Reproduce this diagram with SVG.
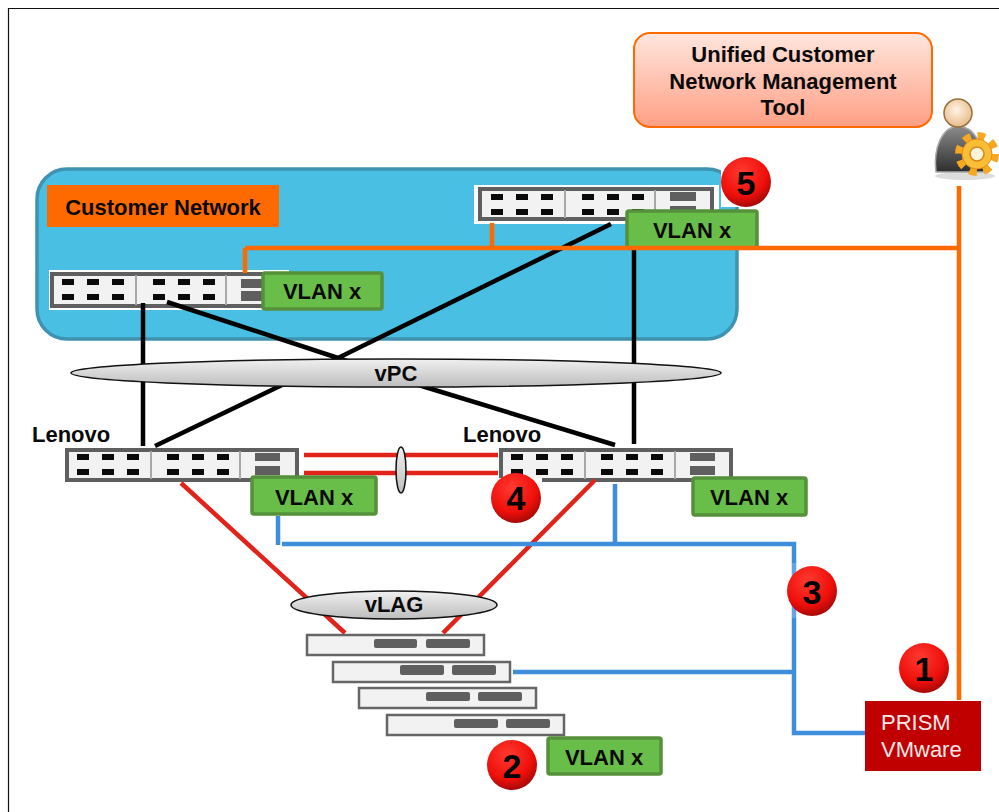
<svg xmlns="http://www.w3.org/2000/svg" width="999" height="812" viewBox="0 0 999 812">
<style>
text{font-family:"Liberation Sans",Arial,sans-serif;font-weight:700;fill:#0a0a0a}
.c{text-anchor:middle}
.sw{fill:#f2f2f2;stroke:#5f5f5f;stroke-width:4}
.dv{stroke:#a8a8a8;stroke-width:2}
.p{fill:#0a0a0a}
.b{fill:#5f5f5f}
.vl{fill:#69bd49;stroke:#55903a;stroke-width:3.5}
.vt{font-size:22px;text-anchor:middle}
.or{stroke:#ff6a00;stroke-width:4.500;fill:none}
.bk{stroke:#000;stroke-width:4.500;fill:none}
.rd{stroke:#e2231a;stroke-width:4.500;fill:none}
.bl{stroke:#3f8ddd;stroke-width:4.500;fill:none}
.num{font-size:34px;text-anchor:middle;fill:#000}
.srv{fill:#f2f2f2;stroke:#666;stroke-width:2.5}
.lbl{font-size:22px}
.pr{font-size:22px;font-weight:400;fill:#fde8e8}
</style>
<defs>
<radialGradient id="ball" cx="0.42" cy="0.3" r="0.75"><stop offset="0" stop-color="#ff3a30"/><stop offset="0.65" stop-color="#ee0f0a"/><stop offset="1" stop-color="#980808"/></radialGradient>
<linearGradient id="ell" x1="0" y1="0" x2="0" y2="1"><stop offset="0" stop-color="#f0f0f0"/><stop offset="1" stop-color="#bdbdbd"/></linearGradient>
<linearGradient id="tool" x1="0" y1="0" x2="0" y2="1"><stop offset="0" stop-color="#ffe6de"/><stop offset="1" stop-color="#ff9f84"/></linearGradient>
<linearGradient id="body" x1="0" y1="0" x2="0" y2="1"><stop offset="0" stop-color="#8c8c8c"/><stop offset="1" stop-color="#2e2e2e"/></linearGradient>
<radialGradient id="head" cx="0.45" cy="0.4" r="0.6"><stop offset="0" stop-color="#fff4e6"/><stop offset="1" stop-color="#e8bb8a"/></radialGradient>
<g id="sw6">
<rect class="p" x="0" y="0" width="12" height="6"/><rect class="p" x="25" y="0" width="12" height="6"/><rect class="p" x="50" y="0" width="12" height="6"/>
<rect class="p" x="0" y="15" width="12" height="6"/><rect class="p" x="25" y="15" width="12" height="6"/><rect class="p" x="50" y="15" width="12" height="6"/>
</g>
</defs>
<rect width="999" height="812" fill="#fff"/>
<path d="M8.500 812V8.500H999" fill="none" stroke="#111" stroke-width="1.200"/>

<g id="customer-network">
<rect x="37" y="169" width="700" height="170" rx="30" fill="#48bfe3" stroke="#3f93b0" stroke-width="3.500"/>
<rect x="47" y="185" width="232" height="42" fill="#ff6a00"/>
<text x="163" y="215" font-size="22" class="c">Customer Network</text>
</g>

<g id="tool">
<rect x="634" y="33" width="298" height="94" rx="16" fill="url(#tool)" stroke="#ff6a00" stroke-width="2"/>
<text x="783" y="62" font-size="22" class="c">Unified Customer</text>
<text x="783" y="89" font-size="22" class="c">Network Management</text>
<text x="783" y="115" font-size="22" class="c">Tool</text>
</g>

<g id="admin-icon">
<ellipse cx="965" cy="176" rx="30" ry="4" fill="#ddd"/>
<path d="M936 172C933 148 942 127 958 126C974 127 982 140 984 172Z" fill="url(#body)" stroke="#aaa" stroke-width="1.500"/>
<circle cx="958" cy="113" r="14" fill="url(#head)" stroke="#96703c" stroke-width="1.500"/>
<circle cx="977" cy="154" r="17" fill="none" stroke="#f6a821" stroke-width="10" stroke-dasharray="7 6.350"/>
<circle cx="977" cy="154" r="15" fill="#f9bd36" stroke="#e8891a" stroke-width="1"/>
<circle cx="977" cy="154" r="7" fill="#fff4d8" stroke="#d8861a" stroke-width="1.500"/>
</g>

<g id="switch-customer-left">
<rect x="49" y="270" width="240" height="40" fill="#fff"/>
<rect class="sw" x="52" y="274" width="232" height="32"/>
<path class="dv" d="M136 275V305M226 275V305"/>
<use href="#sw6" x="62" y="279"/><use href="#sw6" x="153" y="279"/>
<rect class="b" x="241" y="279" width="26" height="9"/><rect class="b" x="241" y="291" width="26" height="10"/>
</g>

<g id="switch-customer-right">
<rect x="474" y="185" width="245" height="39" fill="#fff"/>
<rect class="sw" x="480" y="189" width="232" height="30"/>
<path class="dv" d="M565 190V218M655 190V218"/>
<use href="#sw6" x="491" y="194"/><use href="#sw6" x="582" y="194"/>
<rect class="b" x="670" y="192" width="26" height="9"/><rect class="b" x="670" y="206" width="26" height="9"/>
</g>
<g id="vlan-customer-right"><rect class="vl" x="627" y="211" width="130" height="37" rx="2"/><text class="vt" x="692" y="238">VLAN x</text></g>

<g id="switch-lenovo-left">
<text class="lbl" x="32" y="442">Lenovo</text>
<rect class="sw" x="67" y="450" width="230" height="30"/>
<path class="dv" d="M151 451V479M240 451V479"/>
<use href="#sw6" x="77" y="454"/><use href="#sw6" x="167" y="454"/>
<rect class="b" x="255" y="453" width="25" height="8"/><rect class="b" x="255" y="466" width="25" height="9"/>
</g>

<g id="switch-lenovo-right">
<text class="lbl" x="463" y="442">Lenovo</text>
<rect class="sw" x="501" y="450" width="230" height="30"/>
<path class="dv" d="M585 451V479M675 451V479"/>
<use href="#sw6" x="511" y="454"/><use href="#sw6" x="601" y="454"/>
<rect class="b" x="690" y="453" width="25" height="8"/><rect class="b" x="690" y="466" width="25" height="9"/>
</g>

<g id="connectors">
<path class="bk" d="M143 303V446M167 302L338 358L425 387L615 445M611 224L338 358L155 446M634 248V444"/>
<path class="or" d="M959 186V700M245 248H959M245 248V273M492 223V248"/>
<path class="rd" d="M304 455H498M304 473H498M181 483L345 633M595 480L443 633"/>
<path class="bl" d="M278 516V545M282 544H794V733H865M615 484V544M513 672H794"/>
</g>

<g id="vpc">
<ellipse cx="396" cy="373" rx="325" ry="14" fill="url(#ell)" stroke="#111" stroke-width="1.500"/>
<text x="396" y="381" font-size="22" class="c">vPC</text>
</g>

<g id="vlan-customer-left"><rect class="vl" x="263" y="273" width="119" height="36" rx="2"/><text class="vt" x="322" y="299">VLAN x</text></g>

<g id="badge-5"><rect x="721" y="157" width="50" height="50" fill="#fff"/><circle cx="746" cy="182" r="25" fill="url(#ball)"/><text class="num" x="746" y="195">5</text></g>

<g id="vlan-lenovo-left"><rect class="vl" x="252" y="477" width="124" height="37" rx="2"/><text class="vt" x="314" y="505">VLAN x</text></g>

<g id="link-ring"><ellipse cx="401" cy="470" rx="5" ry="23" fill="url(#ell)" stroke="#111" stroke-width="1.500"/></g>

<g id="vlan-lenovo-right"><rect class="vl" x="693" y="478" width="113" height="37" rx="2"/><text class="vt" x="749" y="505">VLAN x</text></g>

<g id="badge-4"><rect x="490" y="478" width="52" height="47" fill="#fff"/><circle cx="516" cy="498" r="25" fill="url(#ball)"/><text class="num" x="516" y="510">4</text></g>

<g id="vlag">
<ellipse cx="394" cy="605" rx="103" ry="14" fill="url(#ell)" stroke="#111" stroke-width="1.500"/>
<text x="394" y="612" font-size="22" class="c">vLAG</text>
</g>

<g id="servers">
<rect class="srv" x="307" y="635" width="177" height="20"/><rect class="b" x="374" y="639" width="43" height="9" rx="2"/><rect class="b" x="426" y="639" width="44" height="9" rx="2"/>
<rect class="srv" x="333" y="662" width="177" height="20"/><rect class="b" x="400" y="665" width="44" height="10" rx="2"/><rect class="b" x="452" y="665" width="44" height="10" rx="2"/>
<rect class="srv" x="359" y="688" width="177" height="20"/><rect class="b" x="426" y="692" width="44" height="9" rx="2"/><rect class="b" x="478" y="692" width="44" height="9" rx="2"/>
<rect class="srv" x="387" y="715" width="177" height="20"/><rect class="b" x="454" y="719" width="44" height="9" rx="2"/><rect class="b" x="506" y="719" width="44" height="9" rx="2"/>
</g>
<g id="vlan-servers"><rect class="vl" x="548" y="738" width="113" height="36" rx="2"/><text class="vt" x="604" y="765">VLAN x</text></g>
<g id="badge-2"><circle cx="512" cy="765" r="25" fill="url(#ball)"/><text class="num" x="512" y="778">2</text></g>

<g id="badge-3"><rect x="787" y="563" width="50" height="55" fill="#fff" fill-opacity="0.2"/><circle cx="812" cy="591" r="25" fill="url(#ball)"/><text class="num" x="812" y="604">3</text></g>
<g id="badge-1"><circle cx="924" cy="668" r="25" fill="url(#ball)"/><text class="num" x="924" y="681">1</text></g>

<g id="prism">
<rect x="865" y="701" width="116" height="70" fill="#c00000"/>
<text class="pr" x="881" y="730">PRISM</text>
<text class="pr" x="881" y="757">VMware</text>
</g>
</svg>
